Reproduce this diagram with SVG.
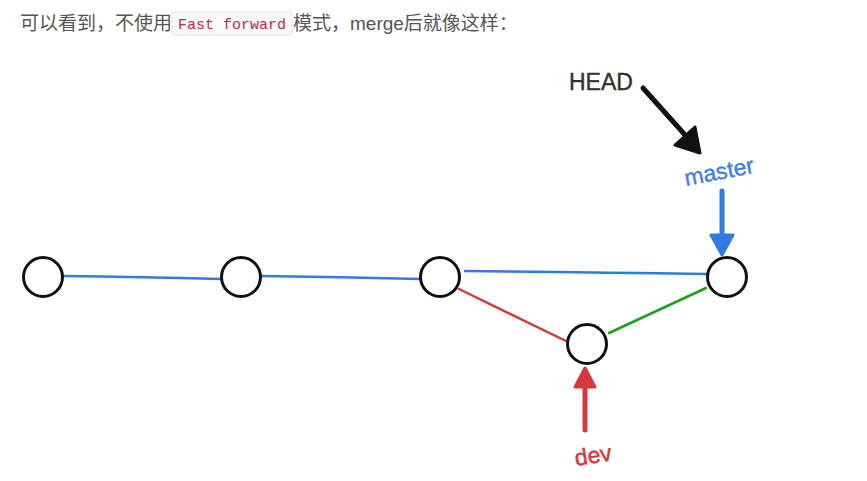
<svg xmlns="http://www.w3.org/2000/svg" width="867" height="481" viewBox="0 0 867 481">
<style>
.t{font-family:"Liberation Sans","Noto Sans CJK SC",sans-serif;font-size:19px;fill:#555}
.code{font-family:"Liberation Mono",monospace;font-size:15px;fill:#c7254e}
.node{fill:#fff;stroke:#111;stroke-width:3}
.lbl{font-family:"Liberation Sans",sans-serif;font-size:23px}
</style>
<rect width="867" height="481" fill="#fff"/>
<g id="caption">
<text class="t" x="20" y="30">可以看到，不使用</text>
<rect x="172" y="12" width="120" height="23" rx="3" fill="#f9f9f9" stroke="#e3e3e3"/>
<text class="code" x="178" y="29">Fast forward</text>
<text class="t" x="293" y="30">模式，merge后就像这样：</text>
</g>
<g id="connectors" fill="none" stroke-linecap="round">
<path d="M63 276 Q140 277 221 279" stroke="#2f7be0" stroke-width="2.5"/>
<path d="M262 276 Q340 277 420 279" stroke="#2f7be0" stroke-width="2.5"/>
<path d="M465 271 Q590 272 706 274" stroke="#2f7be0" stroke-width="2.5"/>
<path d="M459 289 L566 341" stroke="#d8383c" stroke-width="2.5"/>
<path d="M609 333 L706 288" stroke="#1ea01e" stroke-width="2.5"/>
<g id="head-arrow">
<path d="M643 88 L695 146" stroke="#111" stroke-width="5"/>
<path d="M675 145 L700 153 L695 127 Z" fill="#111" stroke="#111" stroke-width="3" stroke-linejoin="round"/>
</g>
<g id="master-arrow">
<path d="M722 191 L722 240" stroke="#2f7be0" stroke-width="5"/>
<path d="M711 235 L722 255 L733 235 Z" fill="#2f7be0" stroke="#2f7be0" stroke-width="3" stroke-linejoin="round"/>
</g>
<g id="dev-arrow">
<path d="M585 430 L585 382" stroke="#d8383c" stroke-width="5"/>
<path d="M575 387 L585 368 L595 387 Z" fill="#d8383c" stroke="#d8383c" stroke-width="3" stroke-linejoin="round"/>
</g>
</g>
<g id="c1"><circle class="node" cx="43" cy="277" r="19.5"/></g>
<g id="c2"><circle class="node" cx="241" cy="277" r="19.5"/></g>
<g id="c3"><circle class="node" cx="440" cy="277" r="19.5"/></g>
<g id="c4"><circle class="node" cx="587" cy="344" r="19.5"/></g>
<g id="c5"><circle class="node" cx="727" cy="277" r="19.5"/></g>
<g id="HEAD"><text class="lbl" x="569" y="90" fill="#333" stroke="#333" stroke-width="0.4" font-size="22">HEAD</text></g>
<g id="master"><text class="lbl" x="0" y="0" fill="#3a80e8" stroke="#3a80e8" stroke-width="0.4" transform="translate(686 186) rotate(-11)">master</text></g>
<g id="dev"><text class="lbl" x="0" y="0" fill="#d8383c" stroke="#d8383c" stroke-width="0.5" transform="translate(576 466) rotate(-9)">dev</text></g>
</svg>
